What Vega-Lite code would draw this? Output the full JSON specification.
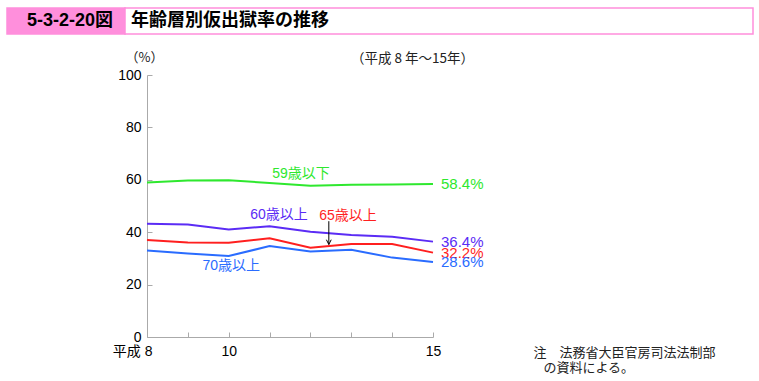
{
  "$schema": "https://vega.github.io/schema/vega-lite/v6.json",
  "padding": {"left": 6, "top": 7, "right": 0, "bottom": 0},
  "background": "white",
  "config": {
    "view": {"stroke": null},
    "font": "Liberation Sans, Noto Sans CJK JP, sans-serif"
  },
  "datasets": {
    "series": [
      {"series": "59歳以下", "year": 8, "value": 59.0},
      {"series": "59歳以下", "year": 9, "value": 59.7},
      {"series": "59歳以下", "year": 10, "value": 59.8},
      {"series": "59歳以下", "year": 11, "value": 58.8},
      {"series": "59歳以下", "year": 12, "value": 57.7},
      {"series": "59歳以下", "year": 13, "value": 58.1},
      {"series": "59歳以下", "year": 14, "value": 58.2},
      {"series": "59歳以下", "year": 15, "value": 58.4},
      {"series": "60歳以上", "year": 8, "value": 43.2},
      {"series": "60歳以上", "year": 9, "value": 42.9},
      {"series": "60歳以上", "year": 10, "value": 41.0},
      {"series": "60歳以上", "year": 11, "value": 42.3},
      {"series": "60歳以上", "year": 12, "value": 40.2},
      {"series": "60歳以上", "year": 13, "value": 38.9},
      {"series": "60歳以上", "year": 14, "value": 38.3},
      {"series": "60歳以上", "year": 15, "value": 36.4},
      {"series": "65歳以上", "year": 8, "value": 37.0},
      {"series": "65歳以上", "year": 9, "value": 36.1},
      {"series": "65歳以上", "year": 10, "value": 36.0},
      {"series": "65歳以上", "year": 11, "value": 37.7},
      {"series": "65歳以上", "year": 12, "value": 34.1},
      {"series": "65歳以上", "year": 13, "value": 35.5},
      {"series": "65歳以上", "year": 14, "value": 35.5},
      {"series": "65歳以上", "year": 15, "value": 32.2},
      {"series": "70歳以上", "year": 8, "value": 33.0},
      {"series": "70歳以上", "year": 9, "value": 31.9},
      {"series": "70歳以上", "year": 10, "value": 30.9},
      {"series": "70歳以上", "year": 11, "value": 34.7},
      {"series": "70歳以上", "year": 12, "value": 32.6},
      {"series": "70歳以上", "year": 13, "value": 33.3},
      {"series": "70歳以上", "year": 14, "value": 30.3},
      {"series": "70歳以上", "year": 15, "value": 28.6}
    ],
    "ends": [
      {"series": "59歳以下", "year": 15, "value": 58.4, "text": "58.4%"},
      {"series": "60歳以上", "year": 15, "value": 36.4, "text": "36.4%"},
      {"series": "65歳以上", "year": 15, "value": 32.2, "text": "32.2%"},
      {"series": "70歳以上", "year": 15, "value": 28.6, "text": "28.6%"}
    ],
    "names": [
      {"series": "59歳以下", "year": 11.77, "value": 62.3, "text": "59歳以下"},
      {"series": "60歳以上", "year": 11.23, "value": 46.6, "text": "60歳以上"},
      {"series": "65歳以上", "year": 12.92, "value": 46.3, "text": "65歳以上"},
      {"series": "70歳以上", "year": 10.06, "value": 27.1, "text": "70歳以上"}
    ],
    "arrow": [
      {"year": 12.45, "top": 44.2, "tip": 35.3}
    ]
  },
  "bounds": "flush",
  "spacing": 67,
  "vconcat": [
    {
      "bounds": "flush",
      "spacing": 0,
      "hconcat": [
        {
          "width": 118,
          "height": 26,
          "view": {"fill": "#ff8fdc", "stroke": "#ff8fdc", "strokeWidth": 1.5},
          "data": {"values": [{"t": "5-3-2-20図"}]},
          "mark": {"type": "text", "fontSize": 18, "fontWeight": "bold", "dx": 4, "color": "black"},
          "encoding": {"text": {"field": "t"}}
        },
        {
          "width": 628,
          "height": 26,
          "view": {"fill": "white", "stroke": "#ff8fdc", "strokeWidth": 1.5},
          "data": {"values": [{"t": "年齢層別仮出獄率の推移"}]},
          "mark": {"type": "text", "align": "left", "baseline": "middle", "dx": 6, "fontSize": 18, "fontWeight": "bold", "font": "Noto Sans CJK JP", "color": "black"},
          "encoding": {
            "x": {"datum": 0, "type": "quantitative", "scale": {"domain": [0, 1]}, "axis": null},
            "text": {"field": "t"}
          }
        }
      ]
    },
    {
      "bounds": "flush",
      "spacing": 0,
      "hconcat": [
        {
          "width": 140,
          "height": 262,
          "data": {"values": []},
          "mark": "text",
          "encoding": {}
        },
        {
          "width": 286,
          "height": 262,
          "title": {
            "text": "（平成 8 年～15年）",
            "anchor": "end",
            "frame": "group",
            "dx": 41,
            "offset": -14,
            "fontSize": 13.5,
            "fontWeight": "normal",
            "font": "Noto Sans CJK JP",
            "color": "#222"
          },
          "encoding": {
            "color": {
              "field": "series",
              "type": "nominal",
              "scale": {
                "domain": ["59歳以下", "60歳以上", "65歳以上", "70歳以上"],
                "range": ["#2ee82e", "#5b2cf5", "#ff1f1f", "#2a6cff"]
              },
              "legend": null
            }
          },
          "layer": [
            {
              "data": {"name": "series"},
              "mark": {"type": "line", "strokeWidth": 2},
              "encoding": {
                "x": {
                  "field": "year",
                  "type": "quantitative",
                  "scale": {"domain": [8, 15], "nice": false, "zero": false},
                  "axis": {
                    "values": [8, 9, 10, 11, 12, 13, 14, 15],
                    "labelExpr": "datum.value == 8 ? '平成 8' : ((datum.value == 10 || datum.value == 15) ? datum.label : '')",
                    "grid": false,
                    "domainColor": "#aaa",
                    "tickColor": "#aaa",
                    "tickSize": -5,
                    "labelPadding": 12,
                    "labelFontSize": 14,
                    "labelColor": "black",
                    "labelFlush": false,
                    "labelAlign": {"condition": {"test": "datum.value == 8", "value": "right"}, "value": "center"},
                    "labelOffset": {"condition": {"test": "datum.value == 8", "value": 5}, "value": 0},
                    "title": ["注　法務省大臣官房司法法制部", "\u2800の資料による。"],
                    "titleX": 386,
                    "titleY": 9,
                    "titleAlign": "left",
                    "titleBaseline": "top",
                    "titleFontSize": 13,
                    "titleFontWeight": "normal",
                    "titleFont": "Noto Sans CJK JP",
                    "titleLineHeight": 15,
                    "titleColor": "#222"
                  }
                },
                "y": {
                  "field": "value",
                  "type": "quantitative",
                  "scale": {"domain": [0, 100], "nice": false},
                  "axis": {
                    "values": [0, 20, 40, 60, 80, 100],
                    "grid": false,
                    "domainColor": "#aaa",
                    "tickColor": "#aaa",
                    "tickSize": -5,
                    "labelPadding": 11,
                    "labelFontSize": 14,
                    "labelColor": "black",
                    "title": "（%）",
                    "titleAngle": 0,
                    "titleX": -3,
                    "titleY": -18,
                    "titleAlign": "center",
                    "titleBaseline": "middle",
                    "titleFontSize": 13,
                    "titleFontWeight": "normal",
                    "titleFont": "Noto Sans CJK JP",
                    "titleColor": "#222"
                  }
                }
              }
            },
            {
              "data": {"name": "ends"},
              "mark": {"type": "text", "align": "left", "baseline": "middle", "dx": 8, "fontSize": 15},
              "encoding": {
                "x": {"field": "year", "type": "quantitative"},
                "y": {"field": "value", "type": "quantitative"},
                "text": {"field": "text"}
              }
            },
            {
              "data": {"name": "names"},
              "mark": {"type": "text", "align": "center", "baseline": "middle", "fontSize": 14},
              "encoding": {
                "x": {"field": "year", "type": "quantitative"},
                "y": {"field": "value", "type": "quantitative"},
                "text": {"field": "text"}
              }
            },
            {
              "data": {"name": "arrow"},
              "mark": {"type": "rule", "strokeWidth": 1},
              "encoding": {
                "x": {"field": "year", "type": "quantitative"},
                "y": {"field": "top", "type": "quantitative"},
                "y2": {"field": "tip"},
                "color": {"value": "black"}
              }
            },
            {
              "data": {"name": "arrow"},
              "mark": {"type": "point", "shape": "M-0.8,-1.6L0,0L0.8,-1.6", "filled": false, "size": 36, "strokeWidth": 1, "opacity": 1},
              "encoding": {
                "x": {"field": "year", "type": "quantitative"},
                "y": {"field": "tip", "type": "quantitative"},
                "color": {"value": "black"}
              }
            }
          ]
        }
      ]
    }
  ]
}
